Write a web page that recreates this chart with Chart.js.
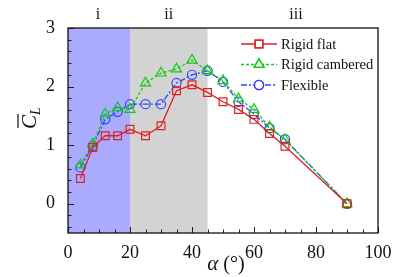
<!DOCTYPE html>
<html>
<head>
<meta charset="utf-8">
<script src="https://cdn.jsdelivr.net/npm/chart.js@4"></script>
<style>
  html, body { margin: 0; padding: 0; background: #fff; }
  #wrap { width: 415px; height: 277px; }
</style>
</head>
<body>
<div id="wrap"><canvas id="clChart" width="415" height="277"></canvas></div>
<script>
const alpha = [4, 8, 12, 16, 20, 25, 30, 35, 40, 45, 50, 55, 60, 65, 70, 90];
const rigidFlat = [0.43, 0.96, 1.16, 1.16, 1.27, 1.16, 1.33, 1.93, 2.03, 1.90, 1.74, 1.61, 1.44, 1.20, 0.98, 0.0];
const rigidCambered = [0.66, 1.02, 1.53, 1.64, 1.61, 2.06, 2.23, 2.30, 2.45, 2.27, 2.10, 1.79, 1.61, 1.31, 1.09, 0.0];
const flexible = [0.62, 0.99, 1.44, 1.57, 1.70, 1.70, 1.70, 2.06, 2.20, 2.27, 2.08, 1.74, 1.53, 1.29, 1.10, 0.0];
const xTicks = [0, 20, 40, 60, 80, 100];
const yTicks = [0, 1, 2, 3];
const regions = [
    { from: 0, to: 20, color: '#aaaaff', label: 'i' },
    { from: 20, to: 45, color: '#d3d3d3', label: 'ii' },
    { from: 45, to: 100, color: null, label: 'iii' }
];

const serif = '"Liberation Serif", "DejaVu Serif", serif';

function pts(ys) {
    return alpha.map((x, i) => ({ x: x, y: ys[i] }));
}

const series = [
    { label: 'Rigid flat', data: rigidFlat, color: '#dd2222', style: 'rect', radius: 5.5, dash: [] },
    { label: 'Rigid cambered', data: rigidCambered, color: '#11cc11', style: 'triangle', radius: 5.8, dash: [3, 2] },
    { label: 'Flexible', data: flexible, color: '#3344ff', style: 'circle', radius: 4.6, dash: [6, 2, 2, 2] }
];

const decor = {
    id: 'decor',
    beforeDatasetsDraw(chart) {
        const { ctx, chartArea: a, scales: { x, y } } = chart;
        ctx.save();
        regions.forEach(r => {
            if (!r.color) return;
            ctx.fillStyle = r.color;
            const x0 = x.getPixelForValue(r.from), x1 = x.getPixelForValue(r.to);
            ctx.fillRect(x0, a.top, x1 - x0, a.bottom - a.top);
        });
        // inward ticks
        ctx.strokeStyle = '#222';
        ctx.lineWidth = 1;
        for (let v = 0; v <= 100; v += 5) {
            const px = Math.round(x.getPixelForValue(v)) + 0.5;
            const len = v % 20 === 0 ? 6 : 3.5;
            ctx.beginPath();
            ctx.moveTo(px, a.bottom);
            ctx.lineTo(px, a.bottom - len);
            ctx.stroke();
        }
        for (let k = -2; k <= 15; k++) {
            const v = k * 0.2;
            const py = Math.round(y.getPixelForValue(v)) + 0.5;
            const len = k % 5 === 0 ? 6 : 3.5;
            ctx.beginPath();
            ctx.moveTo(a.left, py);
            ctx.lineTo(a.left + len, py);
            ctx.stroke();
        }
        ctx.restore();
    },
    afterDraw(chart) {
        const { ctx, chartArea: a, scales: { x } } = chart;
        ctx.save();
        // frame
        ctx.strokeStyle = '#111';
        ctx.lineWidth = 1.3;
        ctx.strokeRect(a.left, a.top, a.right - a.left, a.bottom - a.top);

        // region labels
        ctx.fillStyle = '#111';
        ctx.font = '16px ' + serif;
        ctx.textAlign = 'center';
        ctx.textBaseline = 'alphabetic';
        regions.forEach(r => {
            const cx = (x.getPixelForValue(r.from) + x.getPixelForValue(r.to)) / 2;
            ctx.fillText(r.label, r.label === 'iii' ? 296 : (r.label === 'i' ? 98 : cx), 19);
        });

        // legend
        ctx.font = '14.5px ' + serif;
        ctx.textAlign = 'left';
        ctx.textBaseline = 'middle';
        series.forEach((s, i) => {
            const ly = 44 + i * 20.5;
            ctx.strokeStyle = s.color;
            ctx.lineWidth = 1.3;
            ctx.setLineDash(s.dash);
            ctx.beginPath();
            ctx.moveTo(241, ly);
            ctx.lineTo(277, ly);
            ctx.stroke();
            ctx.setLineDash([]);
            ctx.fillStyle = '#fff';
            Chart.helpers.drawPoint(ctx, { pointStyle: s.style, radius: s.radius, borderWidth: 1.2 }, 259, ly);
            ctx.stroke();
            ctx.fillStyle = '#111';
            ctx.fillText(s.label, 281, ly + 1);
        });

        // x title
        ctx.textBaseline = 'alphabetic';
        const t1 = 'α';
        ctx.font = '20px ' + serif;
        const t2 = ' (°)';
        const w2 = ctx.measureText(t2).width;
        ctx.font = 'italic 21px ' + serif;
        const w1 = ctx.measureText(t1).width;
        const sx = 226 - (w1 + w2) / 2;
        ctx.fillText(t1, sx, 270);
        ctx.font = '20px ' + serif;
        ctx.fillText(t2, sx + w1, 270);

        // y title: C-bar sub L
        ctx.translate(36, 118);
        ctx.rotate(-Math.PI / 2);
        ctx.font = 'italic 21px ' + serif;
        const cw = ctx.measureText('C').width;
        ctx.font = 'italic 14px ' + serif;
        const lw = ctx.measureText('L').width;
        const start = -(cw + lw) / 2;
        ctx.font = 'italic 21px ' + serif;
        ctx.fillText('C', start, 0);
        ctx.strokeStyle = '#111';
        ctx.lineWidth = 1.2;
        ctx.beginPath();
        ctx.moveTo(start + 1, -18);
        ctx.lineTo(start + cw + 1, -18);
        ctx.stroke();
        ctx.font = 'italic 14px ' + serif;
        ctx.fillText('L', start + cw, 4);
        ctx.restore();
    }
};

function createLiftChart() {
    const ctx = document.getElementById('clChart').getContext('2d');
    new Chart(ctx, {
        type: 'line',
        data: {
            datasets: series.map(s => ({
                label: s.label,
                data: pts(s.data),
                borderColor: s.color,
                borderWidth: 1.3,
                borderDash: s.dash,
                pointStyle: s.style,
                pointRadius: s.radius,
                pointBorderWidth: 1.2,
                pointBorderColor: s.color,
                pointBackgroundColor: 'rgba(0,0,0,0)',
                tension: 0,
                fill: false
            }))
        },
        options: {
            responsive: false,
            animation: false,
            layout: { padding: { top: 28, right: 37, left: 0, bottom: 0 } },
            plugins: { legend: { display: false }, tooltip: { enabled: false } },
            scales: {
                x: {
                    type: 'linear',
                    min: 0,
                    max: 100,
                    grid: { display: false },
                    border: { display: false },
                    afterBuildTicks: sc => { sc.ticks = xTicks.map(v => ({ value: v })); },
                    afterFit: sc => { sc.height = 44; },
                    ticks: { color: '#111', padding: 1, maxRotation: 0, font: { family: serif, size: 18 } }
                },
                y: {
                    min: -0.5,
                    max: 3,
                    grid: { display: false },
                    border: { display: false },
                    afterBuildTicks: sc => { sc.ticks = yTicks.map(v => ({ value: v })); },
                    afterFit: sc => { sc.width = 68; },
                    ticks: { color: '#111', padding: 5, font: { family: serif, size: 18 } }
                }
            }
        },
        plugins: [decor]
    });
}

document.addEventListener('DOMContentLoaded', createLiftChart);
</script>
</body>
</html>
